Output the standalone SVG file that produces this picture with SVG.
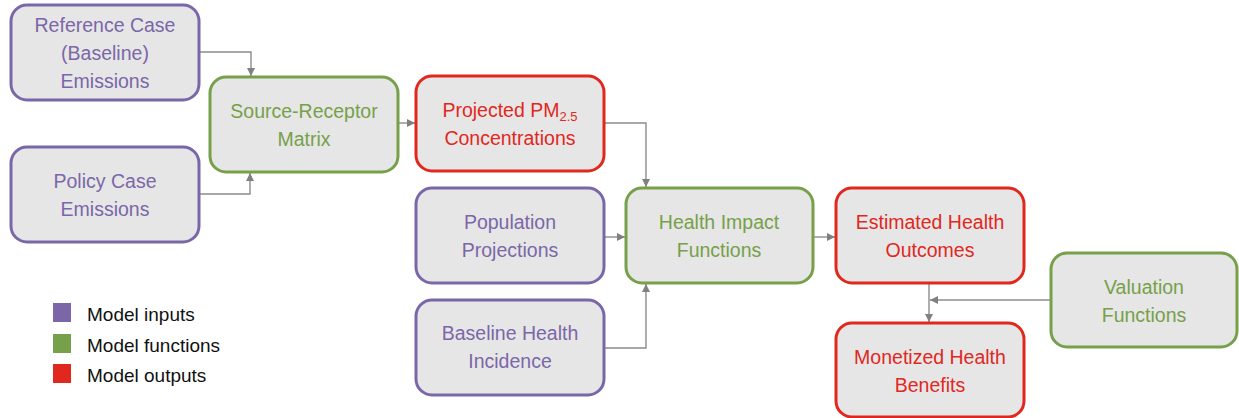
<svg xmlns="http://www.w3.org/2000/svg" width="1239" height="418" viewBox="0 0 1239 418">
<defs>
<marker id="ah" viewBox="0 0 10 10" refX="10" refY="5" markerWidth="8" markerHeight="8" markerUnits="userSpaceOnUse" orient="auto">
<path d="M0,0 L10,5 L0,10 z" fill="#808080"/>
</marker>
<style>
.box{fill:#E6E6E6;stroke-width:3}
.in{stroke:#7B67A8}
.fn{stroke:#76A04A}
.out{stroke:#E0281E}
text{font-family:"Liberation Sans",Arial,sans-serif;font-size:19.5px;text-anchor:middle}
.tin{fill:#7B67A8}
.tfn{fill:#76A04A}
.tout{fill:#E0281E}
.leg{fill:#111;text-anchor:start;font-size:19px}
.c{fill:none;stroke:#8C8C8C;stroke-width:1.4}
</style>
</defs>
<rect width="1239" height="418" fill="#FFFFFF"/>
<g id="connectors">
<path class="c" d="M199,52 H251 V76" marker-end="url(#ah)"/>
<path class="c" d="M199,194 H250 V173" marker-end="url(#ah)"/>
<path class="c" d="M398,123 H415" marker-end="url(#ah)"/>
<path class="c" d="M604,123 H646 V187" marker-end="url(#ah)"/>
<path class="c" d="M604,237 H625" marker-end="url(#ah)"/>
<path class="c" d="M598,348 H646 V284" marker-end="url(#ah)"/>
<path class="c" d="M813,237 H835" marker-end="url(#ah)"/>
<path class="c" d="M929,283 V322" marker-end="url(#ah)"/>
<path class="c" d="M1051,300 H930" marker-end="url(#ah)"/>
</g>
<g id="ref-case">
<rect class="box in" x="11" y="5" width="188" height="95" rx="16"/>
<text class="tin" x="105" y="32">Reference Case</text>
<text class="tin" x="105" y="60">(Baseline)</text>
<text class="tin" x="105" y="88">Emissions</text>
</g>
<g id="policy-case">
<rect class="box in" x="11" y="147" width="188" height="95" rx="16"/>
<text class="tin" x="105" y="188">Policy Case</text>
<text class="tin" x="105" y="216">Emissions</text>
</g>
<g id="source-receptor">
<rect class="box fn" x="210" y="77" width="188" height="95" rx="16"/>
<text class="tfn" x="304" y="118">Source-Receptor</text>
<text class="tfn" x="304" y="146">Matrix</text>
</g>
<g id="projected-pm">
<rect class="box out" x="416" y="76" width="188" height="95" rx="16"/>
<text class="tout" x="510" y="117">Projected PM<tspan font-size="13" dy="4">2.5</tspan></text>
<text class="tout" x="510" y="145">Concentrations</text>
</g>
<g id="population">
<rect class="box in" x="416" y="188" width="188" height="95" rx="16"/>
<text class="tin" x="510" y="229">Population</text>
<text class="tin" x="510" y="257">Projections</text>
</g>
<g id="baseline-health">
<rect class="box in" x="416" y="300" width="188" height="95" rx="16"/>
<text class="tin" x="510" y="340">Baseline Health</text>
<text class="tin" x="510" y="368">Incidence</text>
</g>
<g id="health-impact">
<rect class="box fn" x="626" y="188" width="187" height="95" rx="16"/>
<text class="tfn" x="719" y="229">Health Impact</text>
<text class="tfn" x="719" y="257">Functions</text>
</g>
<g id="estimated-health">
<rect class="box out" x="836" y="188" width="188" height="95" rx="16"/>
<text class="tout" x="930" y="229">Estimated Health</text>
<text class="tout" x="930" y="257">Outcomes</text>
</g>
<g id="monetized-health">
<rect class="box out" x="836" y="323" width="188" height="94" rx="16"/>
<text class="tout" x="930" y="364">Monetized Health</text>
<text class="tout" x="930" y="392">Benefits</text>
</g>
<g id="valuation">
<rect class="box fn" x="1051" y="253" width="186" height="94" rx="16"/>
<text class="tfn" x="1144" y="294">Valuation</text>
<text class="tfn" x="1144" y="322">Functions</text>
</g>
<g id="legend">
<rect x="53" y="303" width="18" height="19" fill="#7B67A8"/>
<rect x="53" y="334" width="18" height="19" fill="#76A04A"/>
<rect x="53" y="364" width="18" height="19" fill="#E0281E"/>
<text class="leg" x="87" y="321">Model inputs</text>
<text class="leg" x="87" y="352">Model functions</text>
<text class="leg" x="87" y="382">Model outputs</text>
</g>
</svg>
